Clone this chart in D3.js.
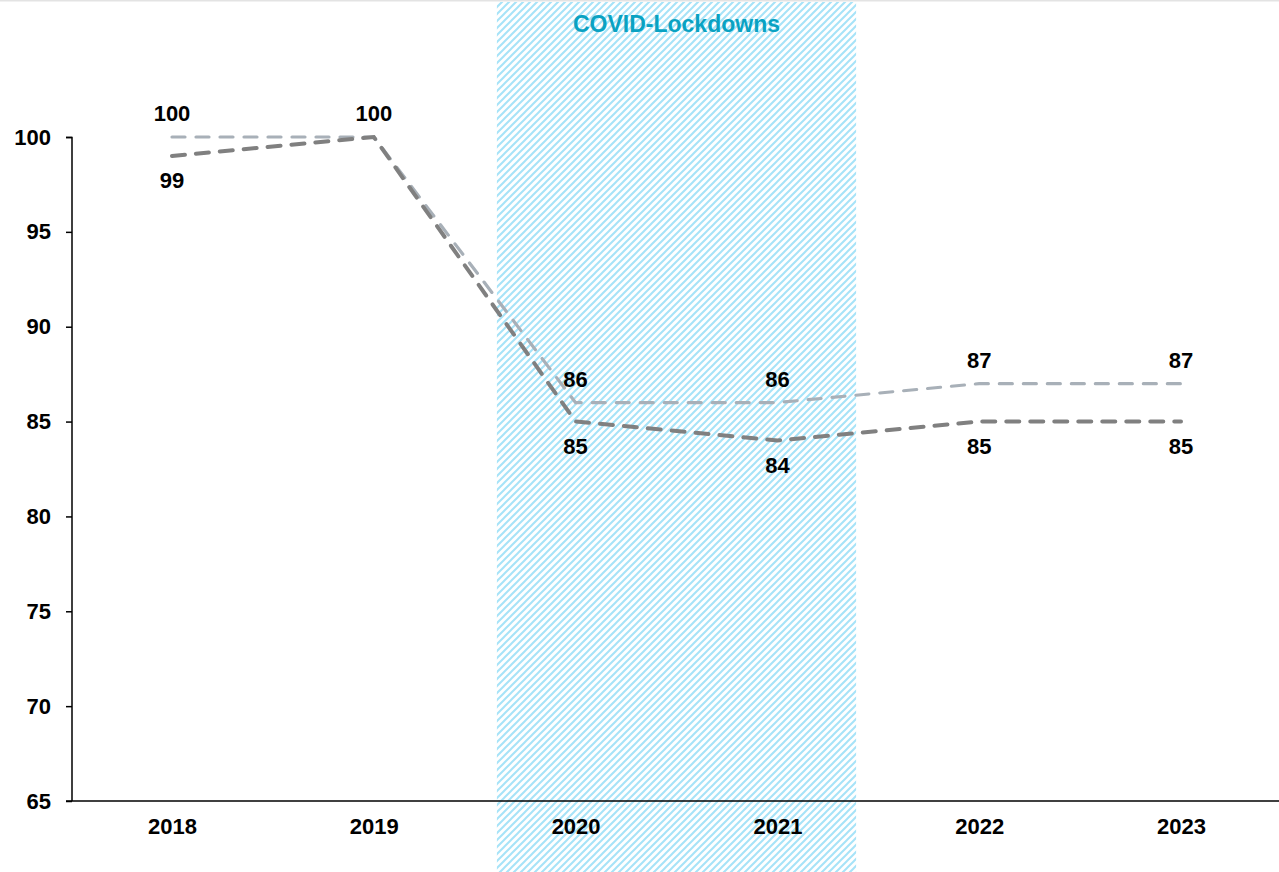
<!DOCTYPE html>
<html>
<head>
<meta charset="utf-8">
<script src="https://cdn.jsdelivr.net/npm/d3@7"></script>
<style>
  html, body { margin: 0; padding: 0; background: #fff; }
  svg { display: block; font-family: "Liberation Sans", Arial, sans-serif; }
</style>
</head>
<body>
<svg id="chart" width="1279" height="872"></svg>
<script>
const years = ["2018", "2019", "2020", "2021", "2022", "2023"];
const seriesLight = [100, 100, 86, 86, 87, 87];
const seriesDark = [99, 100, 85, 84, 85, 85];
const labelsLight = ["100", "100", "86", "86", "87", "87"];
const labelsDark = ["99", null, "85", "84", "85", "85"];
const yTicks = [65, 70, 75, 80, 85, 90, 95, 100];
const shadeYears = ["2020", "2021"];
const shadeLabel = "COVID-Lockdowns";

const W = 1279, H = 872;
const svg = d3.select("#chart");

const x = d3.scalePoint().domain(years).range([172, 1181]);
const step = x.step();
const y = d3.scaleLinear().domain([65, 100]).range([801, 137]);

// top border
svg.append("line").attr("x1", 0).attr("x2", W).attr("y1", 0.75).attr("y2", 0.75)
  .attr("stroke", "#e3e3e3").attr("stroke-width", 1.5);

// hatch pattern
const P = 7;
const defs = svg.append("defs");
const pat = defs.append("pattern").attr("id", "hatch")
  .attr("patternUnits", "userSpaceOnUse").attr("width", P).attr("height", P);
pat.append("rect").attr("width", P).attr("height", P).attr("fill", "#ffffff");
pat.append("path").attr("d", `M-1,1 L1,-1 M0,${P} L${P},0 M${P-1},${P+1} L${P+1},${P-1}`)
  .attr("stroke", "#a6e3f8").attr("stroke-width", 2.0);

const sx0 = x(shadeYears[0]) - 0.39 * step;
const sx1 = x(shadeYears[1]) + 0.39 * step;
svg.append("rect").attr("x", sx0).attr("y", 2).attr("width", sx1 - sx0).attr("height", H - 2)
  .attr("fill", "url(#hatch)");

svg.append("text").attr("x", (sx0 + sx1) / 2).attr("y", 32)
  .attr("text-anchor", "middle").attr("font-weight", "bold").attr("font-size", 23)
  .attr("fill", "#0aa2c2").text(shadeLabel);

// axes
const yAxis = d3.axisLeft(y).tickValues(yTicks).tickSize(6).tickPadding(15).tickFormat(d3.format("d"));
const gy = svg.append("g").attr("transform", "translate(72,0)").call(yAxis);
gy.select(".domain").attr("stroke", "#000").attr("stroke-width", 1.5).attr("d", "M-6,137.5H0V801");
gy.selectAll(".tick line").attr("stroke", "#000").attr("stroke-width", 1.5);
gy.selectAll(".tick text").attr("font-size", 22).attr("font-weight", "bold").attr("fill", "#000")
  .attr("font-family", "Liberation Sans, Arial, sans-serif");

const xAxis = d3.axisBottom(x).tickSize(0).tickPadding(17);
const gx = svg.append("g").attr("transform", "translate(0,801)").call(xAxis);
gx.select(".domain").attr("stroke", "#000").attr("stroke-width", 1.5).attr("d", "M66,0H" + W);
gx.selectAll(".tick text").attr("font-size", 22).attr("font-weight", "bold").attr("fill", "#000")
  .attr("font-family", "Liberation Sans, Arial, sans-serif");

// lines
const line = d3.line().x((d, i) => x(years[i])).y(d => y(d));
svg.append("path").datum(seriesLight).attr("d", line)
  .attr("fill", "none").attr("stroke", "#a8b0b8").attr("stroke-width", 3.2)
  .attr("stroke-dasharray", "13,11").attr("stroke-linecap", "round");
svg.append("path").datum(seriesDark).attr("d", line)
  .attr("fill", "none").attr("stroke", "#808080").attr("stroke-width", 4)
  .attr("stroke-dasharray", "13,11").attr("stroke-linecap", "round");

// labels
svg.append("g").selectAll("text").data(seriesLight).join("text")
  .attr("x", (d, i) => x(years[i])).attr("y", d => y(d) - 16)
  .attr("text-anchor", "middle").attr("font-size", 22).attr("font-weight", "bold").attr("fill", "#000")
  .text((d, i) => labelsLight[i]);
svg.append("g").selectAll("text").data(seriesDark).join("text")
  .attr("x", (d, i) => x(years[i])).attr("y", d => y(d) + 32)
  .attr("text-anchor", "middle").attr("font-size", 22).attr("font-weight", "bold").attr("fill", "#000")
  .text((d, i) => labelsDark[i]);
</script>
</body>
</html>
